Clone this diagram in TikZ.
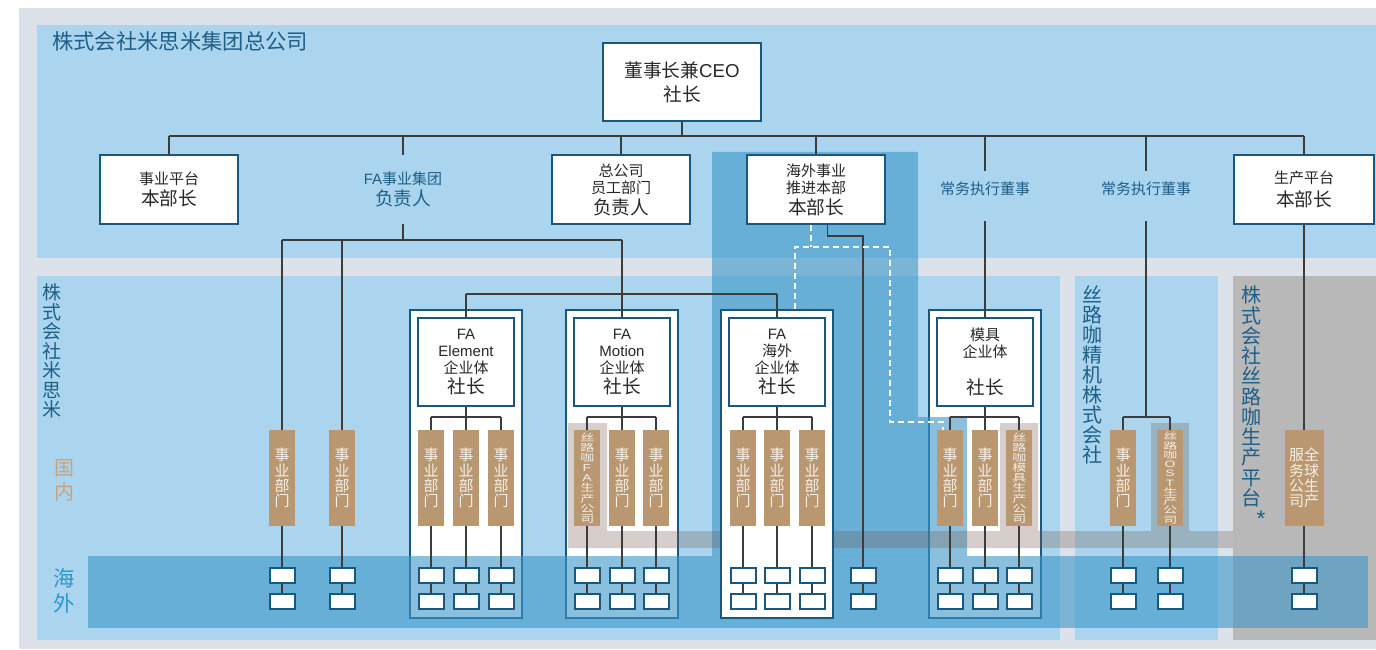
\documentclass[tikz,border=0pt]{standalone}
\usepackage{fontspec}
\setmainfont{Noto Sans CJK SC}
\newfontfamily\lat{Liberation Sans}

\definecolor{pagegray}{RGB}{221,226,234}
\definecolor{skyblue}{RGB}{171,213,239}
\definecolor{seablue}{RGB}{60,150,200}
\definecolor{millgray}{RGB}{118,95,85}
\definecolor{plantgray}{RGB}{185,184,185}
\definecolor{unitbrown}{RGB}{184,151,113}
\definecolor{unittext}{RGB}{246,240,232}
\definecolor{boxblue}{RGB}{24,88,128}
\definecolor{titleblue}{RGB}{30,95,135}
\definecolor{inkgray}{RGB}{40,40,40}
\definecolor{linegray}{RGB}{60,60,60}
\definecolor{homebrown}{RGB}{201,162,124}
\definecolor{awayblue}{RGB}{42,151,210}

\newdimen\pxl \pxl=0.75pt
\newcommand\txts{\fontsize{11.25pt}{12.75pt}\selectfont}
\newcommand\txtl{\fontsize{14pt}{16pt}\selectfont}
\newcommand\txtu{\fontsize{11.25pt}{11.4pt}\selectfont}
\newcommand\squeezed[2]{\scalebox{1}[#1]{\begin{minipage}{10pt}\centering\fontsize{10.5pt}{10.5pt}\selectfont #2\end{minipage}}}

\begin{document}
\begin{tikzpicture}[x=0.75pt,y=-0.75pt]
\tikzstyle{every node}=[inner sep=0pt, text=inkgray]
\tikzstyle{head}=[draw=boxblue, fill=white, line width=2\pxl, minimum width=138\pxl, minimum height=69\pxl, align=center, font=\txts]
\tikzstyle{group}=[draw=boxblue, fill=white, line width=2\pxl, minimum width=112\pxl, minimum height=308\pxl]
\tikzstyle{lead}=[draw=boxblue, fill=white, line width=2\pxl, minimum width=96\pxl, minimum height=88\pxl, align=center, font=\txts]
\tikzstyle{unit}=[fill=unitbrown, minimum width=26\pxl, minimum height=96\pxl, align=center, font=\txtu, text=unittext]
\tikzstyle{cell}=[draw=boxblue, fill=white, line width=2\pxl, minimum width=25\pxl, minimum height=15\pxl]
\tikzstyle{role}=[font=\txts, text=titleblue]
\tikzstyle{zone}=[align=center, text=titleblue]
\tikzstyle{link}=[draw=linegray, line width=1.2\pxl]
\tikzstyle{dashlink}=[draw=white, line width=2\pxl, dash pattern=on 6\pxl off 4\pxl]
\tikzstyle{overseas}=[fill=seablue, fill opacity=0.6]
\tikzstyle{mill}=[fill=millgray, fill opacity=0.3]
\useasboundingbox (0,0) rectangle (1376,649);
\fill[pagegray] (19,8) rectangle (1376,649);
\fill[skyblue] (37,25) rectangle (1376,258);
\fill[skyblue] (37,276) rectangle (1060,640);
\fill[skyblue] (1075,276) rectangle (1218,640);
\fill[plantgray] (1233,276) rectangle (1376,640);
\coordinate (bus) at (0,136);
\coordinate (fabus) at (0,240);
\coordinate (entbus) at (0,294);
\coordinate (unitbus) at (0,417);
\coordinate (row1) at (0,575.5);
\coordinate (row2) at (0,601.5);

% enterprise frames under the overlays
\path node[group] (elementbox) at (466,464) {};
\path node[group] (motionbox) at (622,464) {};
\path node[group] (moldbox) at (985,464) {};

\path[overseas] (712,152) -- (918,152) -- (918,417) -- (967,417) -- (967,556) -- (712,556) -- cycle;
\path[overseas] (88,556) rectangle (1368,628);
\path[mill] (568,423) -- (607,423) -- (607,531) -- (1000,531) -- (1000,423) -- (1038,423) -- (1038,531) -- (1151,531) -- (1151,423) -- (1189,423) -- (1189,531) -- (1233,531) -- (1233,548) -- (568,548) -- cycle;

\path node[group] (overseasbox) at (777,464) {};

\path node[head, minimum width=158\pxl, minimum height=78\pxl, font=\fontsize{14pt}{18pt}\selectfont] (ceo) at (682,82) {董事长兼{\lat CEO}\\社长};
\path node[head] (platform) at (169,189.5) {事业平台\\[3pt]{\txtl 本部长}};
\path node[role, align=center, minimum height=69\pxl] (fahead) at (403,189.5) {{\lat FA}事业集团\\[3pt]{\txtl 负责人}};
\path node[head] (staff) at (621,189.5) {总公司\\员工部门\\[3pt]{\txtl 负责人}};
\path node[head] (abroad) at (816,189.5) {海外事业\\推进本部\\[3pt]{\txtl 本部长}};
\path node[role, text height=23\pxl, text depth=27\pxl] (exec1) at (985,196) {常务执行董事};
\path node[role, text height=23\pxl, text depth=27\pxl] (exec2) at (1146,196) {常务执行董事};
\path node[head, minimum width=140\pxl] (prodplat) at (1304,189.5) {生产平台\\[3pt]{\txtl 本部长}};

\path node[lead] (elementhead) at (466,362) {{\lat FA}\\{\lat Element}\\企业体\\[2pt]{\txtl 社长}};
\path node[lead] (motionhead) at (622,362) {{\lat FA}\\{\lat Motion}\\企业体\\[2pt]{\txtl 社长}};
\path node[lead] (overseashead) at (777,362) {{\lat FA}\\海外\\企业体\\[2pt]{\txtl 社长}};
\path node[lead] (moldhead) at (985,362) {模具\\企业体\\[15pt]{\txtl 社长}};

\foreach \n/\x in {dA/282, dB/342, eA/431, eB/466, eC/501, mB/622, mC/656, oA/743, oB/777, oC/812, kA/950, kB/985, jA/1123}
  \path node[unit] (\n) at (\x,478) {事\\业\\部\\门};
\path node[unit] (mA) at (587,478) {\squeezed{0.72}{丝\\路\\咖\\{\lat F}\\{\lat A}\\生\\产\\公\\司}};
\path node[unit] (kC) at (1019,478) {\squeezed{0.72}{丝\\路\\咖\\模\\具\\生\\产\\公\\司}};
\path node[unit] (jB) at (1170,478) {\squeezed{0.66}{丝\\路\\咖\\{\lat O}\\{\lat S}\\{\lat T}\\生\\产\\公\\司}};
\path node[unit, minimum width=39\pxl] (gA) at (1304,478) {服全\\务球\\公生\\司产};

\foreach \n in {dA, dB, eA, eB, eC, mA, mB, mC, oA, oB, oC, kA, kB, kC, jA, jB, gA} {
  \path node[cell] (\n1) at (\n |- row1) {};
  \path node[cell] (\n2) at (\n |- row2) {};
  \path[link] (\n) -- (\n1) (\n1) -- (\n2);
}
\path node[cell] (oX1) at (863,575.5) {};
\path node[cell] (oX2) at (863,601.5) {};
\path[link] (oX1) -- (oX2);

\path[link] (ceo) -- (ceo |- bus);
\path[link] (platform.north |- bus) -- (prodplat.north |- bus);
\foreach \n in {platform, fahead, staff, abroad, exec1, exec2, prodplat}
  \path[link] (\n.north |- bus) -- (\n.north);
\path[link] (fahead) -- (fahead |- fabus);
\path[link] (dA.north |- fabus) -- (motionhead.north |- fabus);
\foreach \n in {dA, dB, motionhead}
  \path[link] (\n.north |- fabus) -- (\n);
\path[link] (elementhead.north |- entbus) -- (overseashead.north |- entbus);
\foreach \n in {elementhead, overseashead}
  \path[link] (\n.north |- entbus) -- (\n);
\foreach \h/\a/\b/\c in {elementhead/eA/eB/eC, motionhead/mA/mB/mC, overseashead/oA/oB/oC, moldhead/kA/kB/kC}
  \path[link] (\h) -- (\h |- unitbus) (\a.north |- unitbus) -- (\c.north |- unitbus)
    (\a.north |- unitbus) -- (\a) (\b.north |- unitbus) -- (\b) (\c.north |- unitbus) -- (\c);
\path[link] (exec1) -- (moldhead);
\path[link] (exec2) -- (exec2 |- unitbus) (jA.north |- unitbus) -- (jB.north |- unitbus)
  (jA.north |- unitbus) -- (jA) (jB.north |- unitbus) -- (jB);
\path[link] (prodplat) -- (gA);
\path[link] ([xshift=11.5\pxl]abroad.south) -- ++(0,11) -| (oX1);

\coordinate (dl) at (795,247);
\coordinate (dr) at (890,247);
\path[dashlink] ([xshift=-5.5\pxl]abroad.south) -- ([xshift=-5.5\pxl]abroad.south |- dl);
\path[dashlink] (overseasbox.north -| dl) -- (dl) -- (dr) |- ([xshift=-7\pxl,yshift=8\pxl]kA.north) -- ([xshift=-7\pxl]kA.north);

\path node[zone, anchor=west, font=\fontsize{16pt}{16pt}\selectfont] (hq) at (52,41) {株式会社米思米集团总公司};
\path node[zone, font=\fontsize{14.25pt}{14.6pt}\selectfont] (misumi) at (52,351) {株\\式\\会\\社\\米\\思\\米};
\path node[zone, text=homebrown, font=\fontsize{15pt}{18pt}\selectfont] (home) at (64,480) {国\\内};
\path node[zone, text=awayblue, font=\fontsize{16pt}{18.5pt}\selectfont] (away) at (64,591) {海\\外};
\path node[zone, font=\fontsize{15pt}{15pt}\selectfont] (precision) at (1092,375) {丝\\路\\咖\\精\\机\\株\\式\\会\\社};
\path node[zone, font=\fontsize{15pt}{15.2pt}\selectfont] (plant) at (1251,396.5) {株\\式\\会\\社\\丝\\路\\咖\\生\\产\\平\\台};
\path node[zone, font=\lat\fontsize{17pt}{17pt}\selectfont] (mark) at (1261,519) {*};
\end{tikzpicture}
\end{document}
